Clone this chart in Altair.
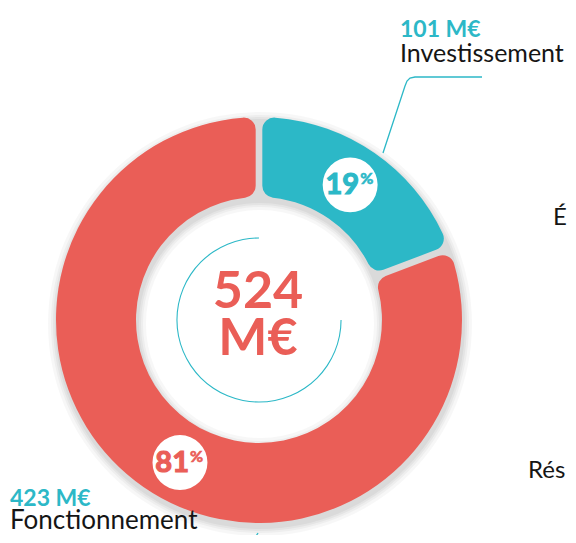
import math
import pandas as pd
import altair as alt

# ---------------- data ----------------
categories = ["Investissement", "Fonctionnement"]
amounts = [101, 423]                      # M€
percent_labels = ["19", "81"]
amount_labels = ["101 M€", "423 M€"]
total_lines = ["524", "M€"]
slice_colors = ["#2cb8c7", "#ea5e57"]
side_labels = ["É", "Rés"]                # cut-off labels of the neighbouring chart

# ---------------- layout (chart pixel space) ----------------
W, H = 560, 527
CX, CY = 251, 312
R_OUT, R_IN = 203, 123
R_LABEL = 163
LABEL_ANGLES_DEG = [34, 209]
TEAL = slice_colors[0]
CORAL = slice_colors[1]
FONT = "Lato"

donut_df = pd.DataFrame({
    "category": categories,
    "value": amounts,
    "idx": list(range(len(categories))),
})

lab_df = pd.DataFrame({
    "pct": percent_labels,
    "col": slice_colors,
    "x": [CX + R_LABEL * math.sin(math.radians(a)) for a in LABEL_ANGLES_DEG],
    "y": [CY - R_LABEL * math.cos(math.radians(a)) for a in LABEL_ANGLES_DEG],
})
lab_df["sym"] = "%"

shadow_layers = []
for d, op in [(9, 0.03), (6, 0.035), (4, 0.04), (2, 0.045)]:
    shadow_layers.append(
        alt.Chart(pd.DataFrame({"v": [1]})).mark_arc(
            innerRadius=R_IN - d, outerRadius=R_OUT + d,
            theta=0, theta2=2 * math.pi, color="#000000", opacity=op,
        ).encode(x=alt.value(CX + 1), y=alt.value(CY + 4))
    )

donut = alt.Chart(donut_df).mark_arc(
    innerRadius=R_IN, outerRadius=R_OUT, cornerRadius=12, padAngle=0.028,
).encode(
    theta=alt.Theta("value:Q", stack=True),
    color=alt.Color("category:N", scale=alt.Scale(domain=categories, range=slice_colors), legend=None),
    order=alt.Order("idx:Q"),
    x=alt.value(CX), y=alt.value(CY),
)

inner_arc = alt.Chart(pd.DataFrame({"v": [1]})).mark_arc(
    innerRadius=81.5, outerRadius=82.6, theta=math.pi / 2, theta2=2 * math.pi, color=TEAL,
).encode(x=alt.value(CX), y=alt.value(CY))

discs = alt.Chart(lab_df).mark_circle(size=3020, color="white", opacity=1).encode(
    x=alt.X("x:Q", scale=None, axis=None), y=alt.Y("y:Q", scale=None, axis=None)
)
pct_num = alt.Chart(lab_df).mark_text(
    font=FONT, fontWeight="bold", fontSize=29, align="right", baseline="alphabetic",
    dx=9, dy=9, strokeWidth=1.2,
).encode(
    x=alt.X("x:Q", scale=None, axis=None), y=alt.Y("y:Q", scale=None, axis=None),
    text="pct:N", color=alt.Color("col:N", scale=None), stroke=alt.Stroke("col:N", scale=None),
)
pct_sym = alt.Chart(lab_df).mark_text(
    font=FONT, fontWeight="bold", fontSize=16, align="left", baseline="alphabetic",
    dx=10, dy=-1, strokeWidth=0.6,
).encode(
    x=alt.X("x:Q", scale=None, axis=None), y=alt.Y("y:Q", scale=None, axis=None),
    text="sym:N", color=alt.Color("col:N", scale=None), stroke=alt.Stroke("col:N", scale=None),
)

center_df = pd.DataFrame({"t": total_lines, "y": [300, 347]})
center = alt.Chart(center_df).mark_text(
    font=FONT, fontWeight="bold", fontSize=52, align="center", baseline="alphabetic", color=CORAL,
).encode(x=alt.value(CX - 1), y=alt.Y("y:Q", scale=None, axis=None), text="t:N")

amt_df = pd.DataFrame({"t": amount_labels, "x": [392, 2], "y": [29, 498]})
amt = alt.Chart(amt_df).mark_text(
    font=FONT, fontWeight="bold", fontSize=23, align="left", baseline="alphabetic", color=TEAL,
).encode(x=alt.X("x:Q", scale=None, axis=None), y=alt.Y("y:Q", scale=None, axis=None), text="t:N")

name_df = pd.DataFrame({"t": categories, "x": [392, 2], "y": [54, 521], "fs": [25, 26]})
names = alt.Chart(name_df).mark_text(
    font=FONT, align="left", baseline="alphabetic", color="#151515",
).encode(
    x=alt.X("x:Q", scale=None, axis=None), y=alt.Y("y:Q", scale=None, axis=None), text="t:N",
    size=alt.Size("fs:Q", scale=None, legend=None),
)

side_df = pd.DataFrame({"t": side_labels, "x": [545, 520], "y": [217, 470]})
side = alt.Chart(side_df).mark_text(
    font=FONT, fontSize=24, align="left", baseline="alphabetic", color="#151515",
).encode(x=alt.X("x:Q", scale=None, axis=None), y=alt.Y("y:Q", scale=None, axis=None), text="t:N")

leader_df = pd.DataFrame({
    "line": ["a"] * 6 + ["b"] * 2,
    "i": [0, 1, 2, 3, 4, 5, 0, 1],
    "x": [375, 397, 399, 402, 407, 474, 250, 245],
    "y": [145, 78, 73, 70, 69, 69, 525, 533],
})
leaders = alt.Chart(leader_df).mark_line(color=TEAL, strokeWidth=1.3).encode(
    x=alt.X("x:Q", scale=None, axis=None), y=alt.Y("y:Q", scale=None, axis=None),
    order=alt.Order("i:Q"), detail="line:N",
)

chart = alt.layer(
    *shadow_layers, donut, inner_arc, leaders, discs, pct_num, pct_sym, center, amt, names, side
).properties(
    width=W, height=H, autosize="none", padding=0, background="white"
).configure_view(stroke=None)

chart.save("out.html", embed_options={"renderer": "svg", "actions": False})
